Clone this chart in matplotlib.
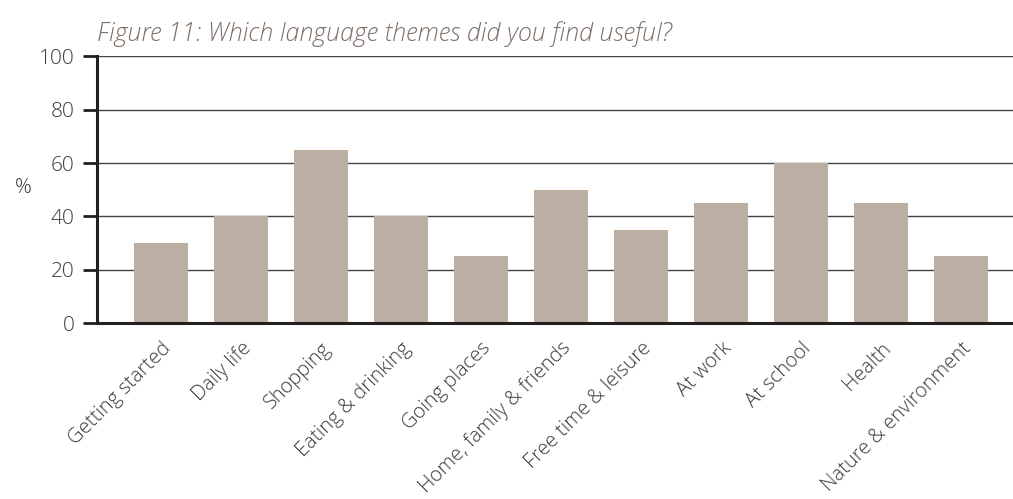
import matplotlib
matplotlib.use("Agg")
import matplotlib.pyplot as plt

# data
themes = ["Getting started", "Daily life", "Shopping", "Eating & drinking",
          "Going places", "Home, family & friends", "Free time & leisure",
          "At work", "At school", "Health", "Nature & environment"]
useful_pct = [30, 40, 65, 40, 25, 50, 35, 45, 60, 45, 25]
y_ticks = [0, 20, 40, 60, 80, 100]

plt.rcParams['font.family'] = ['Open Sans', 'DejaVu Sans']
plt.rcParams['font.weight'] = 300

fig = plt.figure(figsize=(10.13, 4.99), dpi=100)
ax = fig.add_axes([0.0958, 0.3527, 0.9042, 0.5341])

x = list(range(len(themes)))
ax.bar(x, useful_pct, width=0.675, color="#bbafa4", zorder=2)

ax.set_ylim(0, 100)
ax.set_xlim(-0.8, 10.65)
ax.set_yticks(y_ticks)
ax.set_yticklabels([str(t) for t in y_ticks], fontsize=15, color="#3a3a3a")
ax.yaxis.grid(True, color="#444444", linewidth=1.0, zorder=0)
ax.set_axisbelow(True)

ax.set_xticks(x)
ax.set_xticklabels(themes, rotation=45, ha="right", rotation_mode="anchor",
                   fontsize=14.5, color="#3a3a3a")
ax.tick_params(axis="x", length=0, pad=11)
ax.tick_params(axis="y", length=10, width=2, color="#231f20", pad=6)

for side in ["top", "right"]:
    ax.spines[side].set_visible(False)
for side in ["left", "bottom"]:
    ax.spines[side].set_linewidth(2.2)
    ax.spines[side].set_color("#231f20")

fig.text(0.015, 0.623, "%", fontsize=15, color="#3a3a3a", va="center")
fig.text(0.0958, 0.932, "Figure 11: Which language themes did you find useful?",
         fontsize=18, style="italic", color="#7d7068", va="center")

fig.savefig("out.png", dpi=100)
